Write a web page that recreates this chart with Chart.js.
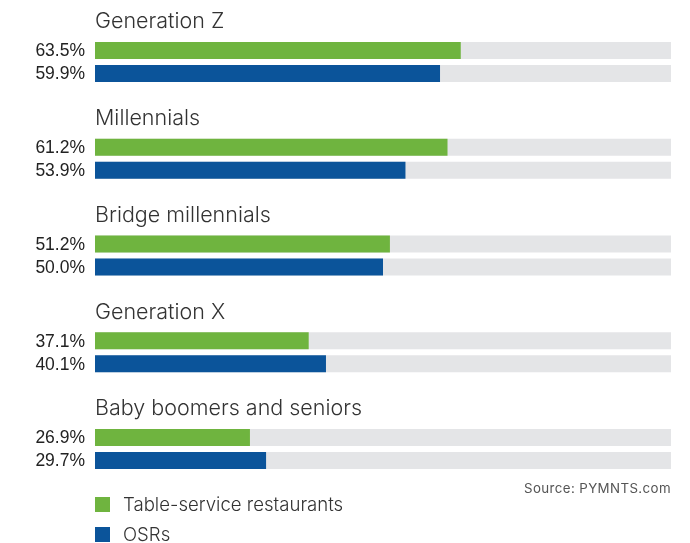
<!DOCTYPE html>
<html>
<head>
<meta charset="utf-8">
<script src="https://cdn.jsdelivr.net/npm/chart.js@4.4.0/dist/chart.umd.min.js"></script>
<style>
  html, body { margin: 0; padding: 0; background: #fff; }
  #wrap { position: relative; width: 690px; height: 543px; overflow: hidden; font-family: Inter, "Open Sans", sans-serif; }
  #chart { position: absolute; left: 0; top: 0; }
  .legend { position: absolute; left: 95px; font-size: 18.6px; font-weight: 300; color: #333; }
  .legend span.box { position: absolute; left: 0; top: 0; width: 15px; height: 15px; }
  .legend span.txt { position: absolute; left: 28px; top: -4px; white-space: nowrap; }
  #source { position: absolute; right: 19px; top: 480px; font-size: 13.3px; color: #555; letter-spacing: 0.4px; }
</style>
</head>
<body>
<div id="wrap">
  <canvas id="chart" width="690" height="543"></canvas>
  <div class="legend" style="top:497px"><span class="box" style="background:#6fb43f"></span><span class="txt">Table-service restaurants</span></div>
  <div class="legend" style="top:527px"><span class="box" style="background:#0b549a"></span><span class="txt">OSRs</span></div>
  <div id="source">Source: PYMNTS.com</div>
</div>
<script>
// dados do gráfico
const grupos = ['Generation Z', 'Millennials', 'Bridge millennials', 'Generation X', 'Baby boomers and seniors'];
const tableService = [63.5, 61.2, 51.2, 37.1, 26.9];
const osrs = [59.9, 53.9, 50.0, 40.1, 29.7];

const corVerde = '#6fb43f';
const corAzul = '#0b549a';
const corTrilho = '#e4e5e7';

// trilho cinza, rótulos de valor e títulos dos grupos
const desenhoExtra = {
    id: 'desenhoExtra',
    beforeDatasetsDraw(chart) {
        const ctx = chart.ctx;
        const x = chart.scales.x;
        const x0 = x.getPixelForValue(0);
        const x1 = x.getPixelForValue(100);
        ctx.save();
        ctx.fillStyle = corTrilho;
        chart.data.datasets.forEach((ds, i) => {
            chart.getDatasetMeta(i).data.forEach(bar => {
                ctx.fillRect(x0, bar.y - bar.height / 2, x1 - x0, bar.height);
            });
        });
        ctx.restore();
    },
    afterDatasetsDraw(chart) {
        const ctx = chart.ctx;
        const x0 = chart.scales.x.getPixelForValue(0);
        const y = chart.scales.y;
        ctx.save();
        ctx.textBaseline = 'middle';
        ctx.fillStyle = '#222';
        ctx.textAlign = 'right';
        ctx.font = '17.5px "Liberation Sans", Arial, sans-serif';
        chart.data.datasets.forEach((ds, i) => {
            chart.getDatasetMeta(i).data.forEach((bar, j) => {
                ctx.fillText(ds.data[j].toFixed(1) + '%', x0 - 10, bar.y + 1);
            });
        });
        ctx.textAlign = 'left';
        ctx.fillStyle = '#333';
        ctx.font = '300 21.5px Inter, "Open Sans", sans-serif';
        grupos.forEach((g, j) => {
            ctx.fillText(g, x0, y.getPixelForValue(j) - 40);
        });
        ctx.restore();
    }
};

new Chart(document.getElementById('chart').getContext('2d'), {
    type: 'bar',
    data: {
        labels: grupos,
        datasets: [
            { label: 'Table-service restaurants', data: tableService, backgroundColor: corVerde },
            { label: 'OSRs', data: osrs, backgroundColor: corAzul }
        ]
    },
    options: {
        indexAxis: 'y',
        responsive: false,
        animation: false,
        categoryPercentage: 0.4755,
        barPercentage: 0.739,
        layout: { padding: { left: 95, right: 19, top: 13.6, bottom: 45.6 } },
        scales: {
            x: { display: false, min: 0, max: 100 },
            y: { display: false }
        },
        plugins: {
            legend: { display: false },
            tooltip: { enabled: false }
        }
    },
    plugins: [desenhoExtra]
});
</script>
</body>
</html>
